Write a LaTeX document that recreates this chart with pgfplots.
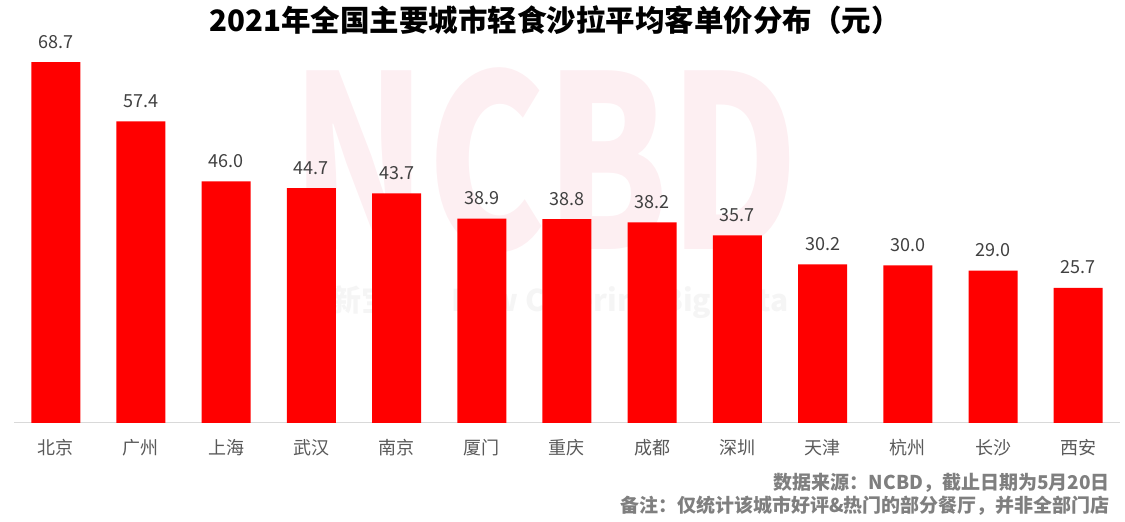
\documentclass[border=0pt]{standalone}
\usepackage{fontspec}
\setmainfont{Noto Sans CJK SC}
\usepackage{pgfplots}
\pgfplotsset{compat=1.18}
\definecolor{barred}{HTML}{FF0000}
\definecolor{valgrey}{HTML}{404040}
\definecolor{catgrey}{HTML}{595959}
\definecolor{notegrey}{HTML}{7F7F7F}
\definecolor{basegrey}{HTML}{D9D9D9}
\definecolor{wmpink}{HTML}{FDEFF2}
\definecolor{wmgrey}{HTML}{F5F5F5}
\begin{document}
\begin{tikzpicture}
\path[use as bounding box] (-14pt,-99pt) rectangle (1111pt,423pt);
% watermark
\node[text=wmpink, font=\fontsize{240}{240}\selectfont\bfseries, xscale=0.74] at (531pt,263pt) {NCBD};
\node[text=wmgrey, font=\fontsize{30}{30}\selectfont\bfseries] at (546pt,121pt) {新宝典\quad New Catering Big Data};
\begin{axis}[
  at={(0,0)}, anchor=south west,
  scale only axis, width=1106pt, height=394pt,
  ybar, bar width=49pt,
  ymin=0, ymax=75, xmin=-0.49, xmax=12.49,
  axis y line=none, axis x line*=bottom,
  x axis line style={basegrey, line width=1pt},
  xtick=data, major tick length=0pt,
  xticklabels={北京,广州,上海,武汉,南京,厦门,重庆,成都,深圳,天津,杭州,长沙,西安},
  xticklabel style={anchor=center, yshift=-25pt, text=catgrey, font=\fontsize{18}{18}\selectfont},
  /pgf/number format/assume math mode=true,
  nodes near coords,
  nodes near coords style={anchor=base, yshift=14pt, text=valgrey, font=\fontsize{18}{18}\selectfont,
    /pgf/number format/fixed, /pgf/number format/precision=1, /pgf/number format/fixed zerofill},
  clip=false,
]
\addplot[fill=barred, draw=none] coordinates {
(0,68.7) (1,57.4) (2,46.0) (3,44.7) (4,43.7) (5,38.9) (6,38.8)
(7,38.2) (8,35.7) (9,30.2) (10,30.0) (11,29.0) (12,25.7)};
\end{axis}
\node[font=\fontsize{29.5}{29.5}\selectfont\bfseries] at (541pt,403pt) {2021年全国主要城市轻食沙拉平均客单价分布（元）};
\node[anchor=east, text=notegrey, font=\fontsize{19}{19}\selectfont\bfseries, inner sep=0pt] at (1096pt,-60pt) {数据来源：NCBD，截止日期为5月20日};
\node[anchor=east, text=notegrey, font=\fontsize{19}{19}\selectfont\bfseries, inner sep=0pt] at (1096pt,-83pt) {备注：仅统计该城市好评\&热门的部分餐厅，并非全部门店};
\end{tikzpicture}
\end{document}
